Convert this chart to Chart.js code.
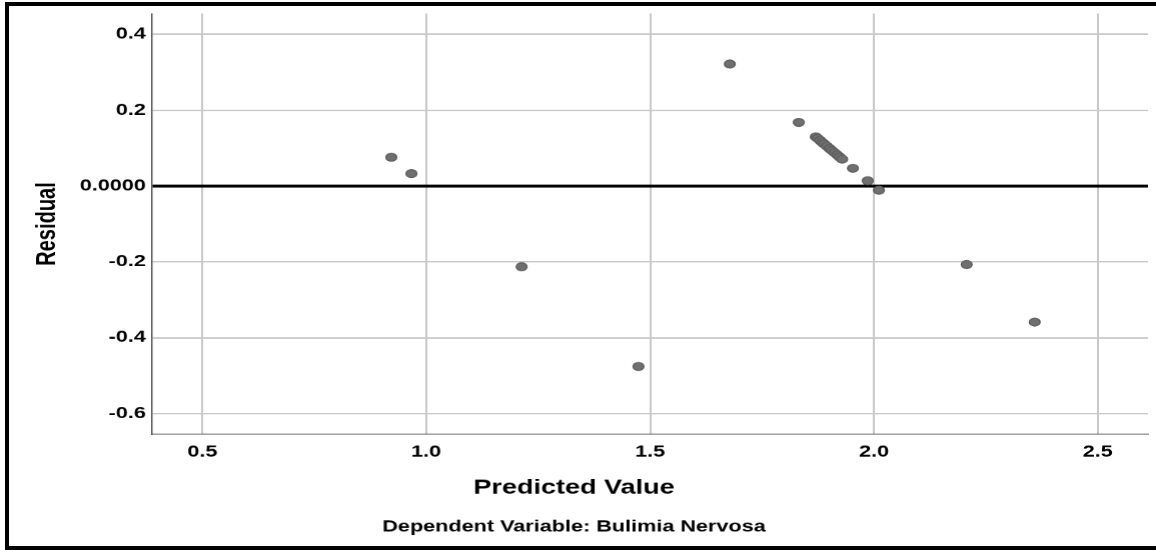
<!DOCTYPE html>
<html>
<head>
<meta charset="utf-8">
<title>Residual vs Predicted Value</title>
<script src="https://cdn.jsdelivr.net/npm/chart.js@4/dist/chart.umd.min.js"></script>
<style>
  html, body { margin: 0; padding: 0; background: #fff; overflow: hidden; }
  /* the reference is horizontally stretched, so draw narrow and scale it out */
  #wrap { position: absolute; left: 0; top: 0; width: 856px; height: 550px;
          transform: scaleX(1.35047); transform-origin: 0 0; }
  #frame { position: absolute; left: 5px; top: 2px; width: 1151px; height: 548px;
           box-sizing: border-box; border: 4px solid #000; border-right: none;
           pointer-events: none; }
</style>
</head>
<body>
<div id="wrap"><canvas id="chart"></canvas></div>
<div id="frame"></div>
<script>
  // Predicted value / residual pairs
  const predicted = [0.922, 0.967, 1.213, 1.474, 1.678, 1.832,
    1.870, 1.874, 1.880, 1.885, 1.889, 1.895, 1.901, 1.906, 1.912, 1.918, 1.923, 1.929,
    1.953, 1.986, 2.011, 2.207, 2.359];
  const residual = [0.076, 0.033, -0.213, -0.476, 0.322, 0.168,
    0.130, 0.126, 0.120, 0.115, 0.111, 0.105, 0.099, 0.094, 0.088, 0.082, 0.077, 0.071,
    0.047, 0.014, -0.011, -0.207, -0.359];

  // Tick labels
  const xTicks = [0.5, 1.0, 1.5, 2.0, 2.5];
  const yTicks = [-0.6, -0.4, -0.2, 0, 0.2, 0.4];

  Chart.defaults.font.family = "'Liberation Sans', Arial, sans-serif";
  Chart.defaults.color = '#000';

  const points = predicted.map((x, i) => ({ x: x, y: residual[i] }));

  const ctx = document.getElementById('chart').getContext('2d');
  new Chart(ctx, {
    type: 'scatter',
    data: {
      datasets: [
        {
          label: 'Residual',
          data: points,
          backgroundColor: '#6f6f6f',
          borderColor: '#5c5c5c',
          borderWidth: 1,
          pointRadius: 4,
          pointHoverRadius: 4
        }
      ]
    },
    options: {
      responsive: true,
      maintainAspectRatio: false,
      devicePixelRatio: 1.35,
      animation: false,
      layout: {
        autoPadding: false,
        padding: { left: 0, right: 6.4, top: 10, bottom: 8 }
      },
      scales: {
        x: {
          type: 'linear',
          min: 0.386,
          max: 2.612,
          afterBuildTicks: scale => { scale.ticks = xTicks.map(v => ({ value: v })); },
          afterFit: scale => { scale.height = 28; },
          ticks: {
            callback: value => value.toFixed(1),
            font: { size: 16, weight: 'bold' },
            padding: 8
          },
          grid: { color: '#c8c8c8', lineWidth: 1.5, drawTicks: false },
          border: { color: '#555', width: 1 }
        },
        y: {
          min: -0.655,
          max: 0.455,
          afterBuildTicks: scale => { scale.ticks = yTicks.map(v => ({ value: v })); },
          afterFit: scale => { scale.width = 112; },
          ticks: {
            callback: value => value === 0 ? '0.0000' : value.toFixed(1),
            font: { size: 16, weight: 'bold' },
            padding: 4
          },
          grid: {
            color: c => (c.tick && c.tick.value === 0) ? '#000' : '#c8c8c8',
            lineWidth: c => (c.tick && c.tick.value === 0) ? 3 : 1.5,
            drawTicks: false
          },
          border: { color: '#444', width: 1 },
          title: {
            display: true,
            text: 'Residual',
            font: { size: 20, weight: 'bold' },
            padding: { top: 23, bottom: 0 }
          }
        }
      },
      plugins: {
        legend: { display: false },
        tooltip: { enabled: false },
        // axis title sits centred on the whole picture, like the footnote
        subtitle: {
          display: true,
          position: 'bottom',
          text: 'Predicted Value',
          font: { size: 20, weight: 'bold' },
          color: '#000',
          padding: { top: 14, bottom: 15.4 }
        },
        title: {
          display: true,
          position: 'bottom',
          text: 'Dependent Variable: Bulimia Nervosa',
          font: { size: 16, weight: 'bold' },
          color: '#000',
          padding: { top: 2, bottom: 5.4 }
        }
      }
    }
  });
</script>
</body>
</html>
